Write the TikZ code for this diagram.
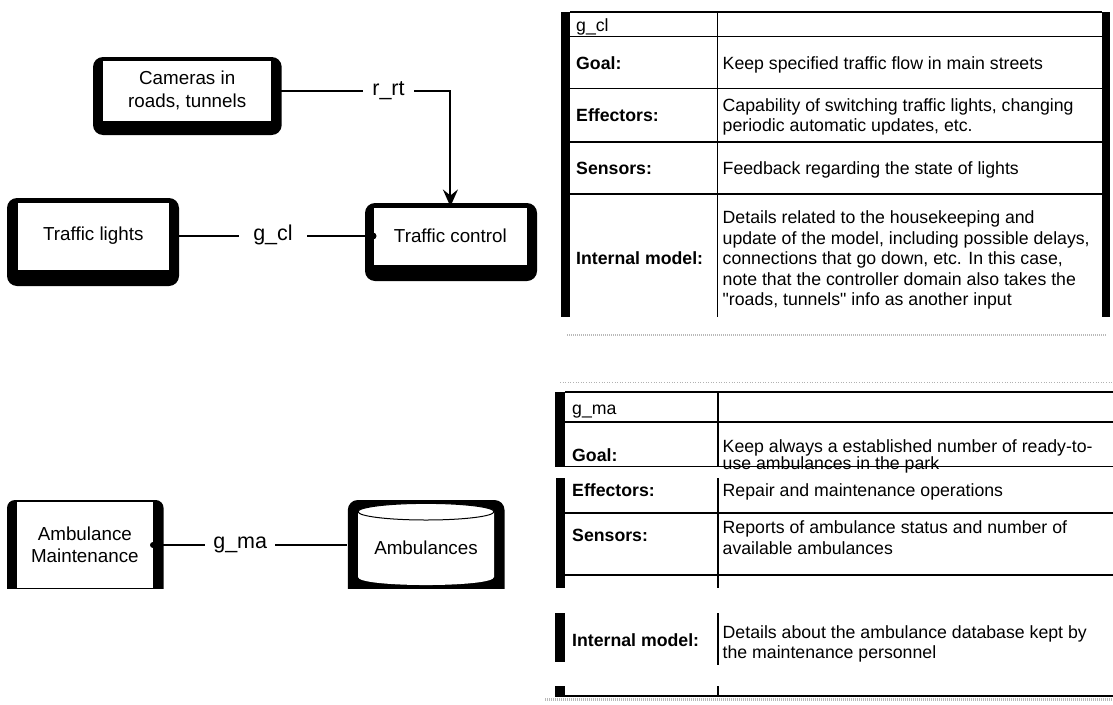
\documentclass[tikz,border=0pt]{standalone}
\usepackage{fontspec}
\setmainfont{Liberation Sans}
% same face without the TeX quote mapping, for straight double quotes
\newfontfamily\rawsans{Liberation Sans}
\usetikzlibrary{arrows.meta,calc}
\newcommand{\boxfont}{\fontsize{18.8}{22.3}\selectfont}
\newcommand{\lblfont}{\fontsize{21.5}{25}\selectfont}
\newcommand{\tabfont}{\fontsize{17.7}{20.5}\selectfont}
\newcommand{\dq}{{\rawsans"}}
\tikzset{
  unit/.style={draw=black, line width=1pt, fill=white, inner sep=0pt, align=center, font=\boxfont},
  link/.style={line width=2pt},
  lbl/.style={fill=white, inner xsep=#1, inner ysep=2pt, font=\lblfont},
  cell/.style={anchor=north west, inner sep=0pt, align=left, font=\tabfont},
  head/.style={cell, font=\tabfont\bfseries},
  rule/.style={line width=1.2pt},
  scanline/.style={gray!55, line width=2.5pt, dash pattern=on 1pt off 1pt},
}
\begin{document}
\begin{tikzpicture}[x=1pt,y=-1pt]
\useasboundingbox (0,0) rectangle (1113,704);

% ---------- traffic control domain ----------
% heavy frames behind the boxes
\fill[rounded corners=10pt] (93,57) rectangle (281.7,135);
\fill[rounded corners=10pt] (7,198) rectangle (179,286);
\fill[rounded corners=10pt] (365,203) rectangle (537,281);

\node[unit, minimum width=169pt, minimum height=61pt] (cam) at (187.2,90.5) {Cameras in\\roads, tunnels};
\node[unit, minimum width=152.2pt, minimum height=68pt] (tl) at (93.3,236) {Traffic lights};
\node[unit, minimum width=153.8pt, minimum height=58pt] (tc) at (450.4,236) {Traffic control};

\draw[link, -{Stealth[length=17pt, width=15pt, inset=6pt]}] (cam.east) -| (tc.north);
\draw[link] (tl.east) -- (tc.west);
\fill (tc.west) circle[radius=3.5pt];

\node[lbl=9.4pt] (rrt) at (388.5,90.5) {r\_rt};
\node[lbl=14pt] (gcl) at (273,235) {g\_cl};

% ---------- ambulance domain ----------
\begin{scope}
  \clip (0,440) rectangle (540,588);
  \fill[rounded corners=8pt] (7,500) rectangle (163.6,600);
  \fill[rounded corners=10pt] (347.8,500) rectangle (504.5,600);
\end{scope}

\node[unit, draw=none, minimum width=135.3pt, minimum height=86pt] (am) at (84.85,545) {Ambulance\\Maintenance};

% cylinder body of the ambulance store
\fill[white] (358,511.7) -- (358,577) .. controls (358,587.7) and (494,587.7) .. (494,577) -- (494,511.7) -- cycle;
\filldraw[fill=white, draw=black, line width=1pt] (426,511.7) ellipse [x radius=68pt, y radius=8.3pt];
\node[font=\boxfont, inner sep=0pt, minimum width=156.7pt] (amb) at (426,548) {Ambulances};

\draw[link] (am.east) -- (am.east -| amb.west);
\fill (am.east) circle[radius=3pt];
\node[lbl=8.4pt] (gma) at (240.2,545) {g\_ma};

% ---------- table for g_cl ----------
\fill (561,12) rectangle (570,317);
\fill (1102,12) rectangle (1110,317);
\foreach \yy in {12,36.5,88.5,142,194} \draw[rule] (570,\yy) -- (1102,\yy);
\draw[rule] (717.5,12) -- (717.5,317);
\draw[scanline, line width=2pt] (567,335) -- (1107,335);

\node[cell] (t1id) at (576,17) {\strut g\_cl};
\node[head] (t1goalH) at (576,55.3) {\strut Goal:};
\node[cell] (t1goal) at (722.5,55.3) {\strut Keep specified traffic flow in main streets};
\node[head] (t1effH) at (576,107) {\strut Effectors:};
\node[cell] (t1eff) at (722.5,96.5) {\strut Capability of switching traffic lights, changing\\periodic automatic updates, etc.};
\node[head] (t1senH) at (576,160) {\strut Sensors:};
\node[cell] (t1sen) at (722.5,160) {\strut Feedback regarding the state of lights};
\node[head] (t1intH) at (576,250) {\strut Internal model:};
\node[cell] (t1int) at (722.5,209) {\strut Details related to the housekeeping and\\update of the model, including possible delays,\\connections that go down, etc. In this case,\\note that the controller domain also takes the\\\dq roads, tunnels\dq{} info as another input};

% ---------- table for g_ma ----------
\draw[gray!60, line width=0.6pt, dotted] (560,382) -- (1113,382);
\fill (555,392) rectangle (565,466.5);
\fill (556,478) rectangle (565,588);
\fill (555,613) rectangle (565,662);
\fill (555,686) rectangle (565,696);
\draw[rule] (718,392) -- (718,466.5);
\draw[rule] (718,478) -- (718,588);
\draw[rule] (718,613) -- (718,665);
\draw[rule] (718,686) -- (718,696);
\foreach \yy in {392,422,466.5,513,575} \draw[rule] (565,\yy) -- (1113,\yy);
\draw[rule] (555,696) -- (1113,696);
\draw[scanline] (545,699.5) -- (1113,699.5);

\node[cell] (t2id) at (572,400) {\strut g\_ma};
\node[head] (t2goalH) at (572,447) {\strut Goal:};
\node[cell] (t2goalA) at (722.5,438) {\strut Keep always a established number of ready-to-};
\node[cell] (t2goalB) at (722.5,454.5) {\strut use ambulances in the park};
\node[head] (t2effH) at (572,482) {\strut Effectors:};
\node[cell] (t2eff) at (722.5,482) {\strut Repair and maintenance operations};
\node[head] (t2senH) at (572,527) {\strut Sensors:};
\node[cell] (t2sen) at (722.5,519) {\strut Reports of ambulance status and number of\\available ambulances};
\node[head] (t2intH) at (572,632) {\strut Internal model:};
\node[cell] (t2int) at (722.5,623.5) {\strut Details about the ambulance database kept by\\the maintenance personnel};
\end{tikzpicture}
\end{document}
